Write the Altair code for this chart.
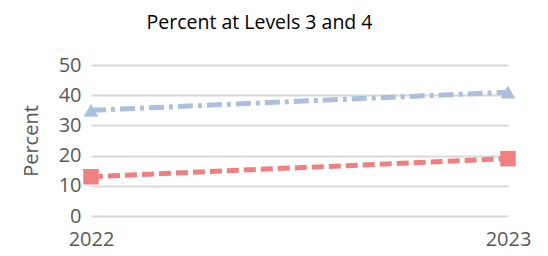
import altair as alt
import pandas as pd

years = ["2022", "2023"]
series = ["Series A", "Series B"]
values_a = [35, 41]
values_b = [13, 19]

rows = []
for s, vals in zip(series, [values_a, values_b]):
    for y, v in zip(years, vals):
        rows.append({"year": y, "series": s, "value": v})
df = pd.DataFrame(rows)

FONT = "Open Sans"
x = alt.X("year:O", scale=alt.Scale(type="point", padding=0),
          axis=alt.Axis(title=None, labelAngle=0, labelPadding=13, labelAlign="center",
                        domain=False, ticks=False))
y = alt.Y("value:Q", scale=alt.Scale(domain=[0, 50]),
          axis=alt.Axis(title="Percent", values=[0, 10, 20, 30, 40, 50],
                        domain=False, ticks=False, labelPadding=10, titlePadding=17))

base = alt.Chart(df)
line_a = base.transform_filter(alt.datum.series == "Series A").mark_line(
    color="#abc0de", strokeWidth=5, strokeDash=[15, 5, 4, 5]).encode(x=x, y=y)
pt_a = base.transform_filter(alt.datum.series == "Series A").mark_point(
    shape="triangle-up", filled=True, color="#abc0de", size=220, opacity=1).encode(x=x, y=y)
line_b = base.transform_filter(alt.datum.series == "Series B").mark_line(
    color="#f08080", strokeWidth=5, strokeDash=[12, 5]).encode(x=x, y=y)
pt_b = base.transform_filter(alt.datum.series == "Series B").mark_point(
    shape="square", filled=True, color="#f08080", size=240, opacity=1).encode(x=x, y=y)

chart = alt.layer(line_a, line_b, pt_a, pt_b).properties(
    width=417, height=151,
    title=alt.TitleParams("Percent at Levels 3 and 4", font=FONT, fontSize=19.5,
                          fontWeight="normal", color="#000000", anchor="middle",
                          dx=-40, offset=22),
    autosize=alt.AutoSizeParams(type="none"),
    padding={"left": 83, "top": 57, "right": 32, "bottom": 40},
).configure_view(stroke=None).configure_axis(
    labelFont=FONT, labelFontSize=20, labelColor="#595959",
    titleFont=FONT, titleFontSize=20, titleColor="#595959", titleFontWeight="normal",
    gridColor="#d9d9d9", gridWidth=2,
)

chart.save("out.html", embed_options={"renderer": "svg", "actions": False})
